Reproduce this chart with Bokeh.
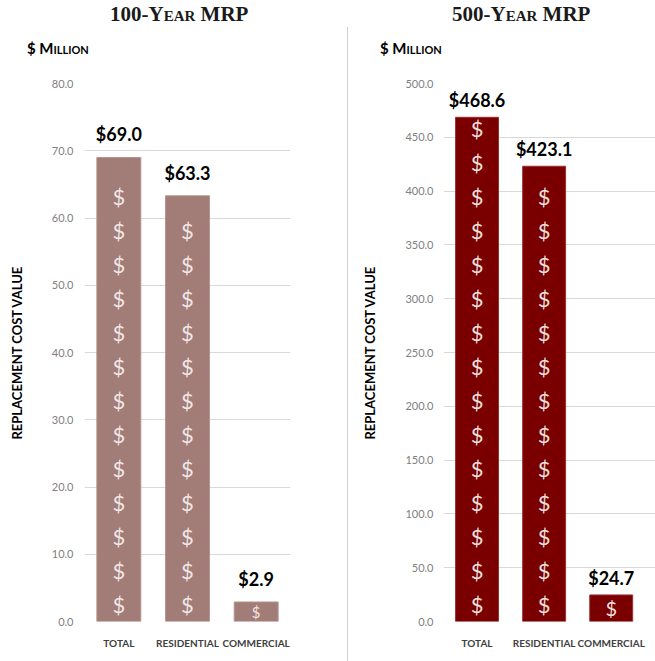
from bokeh.plotting import figure
from bokeh.models import (ColumnDataSource, FixedTicker, NumeralTickFormatter,
                          Range1d, Div, Spacer)
from bokeh.layouts import row, column
from bokeh.embed import file_html
from bokeh.resources import INLINE
from bokeh.core.properties import value

# ---------------- data ----------------
categories = ["Total", "Residential", "Commercial"]
category_labels = ["TOTAL", "RESIDENTIAL", "COMMERCIAL"]
mrp100_values = [69.0, 63.3, 2.9]
mrp500_values = [468.6, 423.1, 24.7]
mrp100_ticks = [0, 10, 20, 30, 40, 50, 60, 70, 80]
mrp500_ticks = [0, 50, 100, 150, 200, 250, 300, 350, 400, 450, 500]
panel_titles = ["100-Year MRP", "500-Year MRP"]
unit_label = "$ Million"
y_axis_label = "REPLACEMENT COST VALUE"

FRAME_H = 538
SYMBOL_PITCH_PX = 34
SYMBOL_SIZE = 22
HEAD_H = 56


def heading(title, width, title_left, unit_left):
    html = (
        '<div style="position:relative;width:%dpx;height:%dpx;">'
        '<div style="position:absolute;left:%dpx;top:4px;white-space:nowrap;'
        'font-family:\'Liberation Serif\';font-weight:bold;font-size:21px;'
        'line-height:21px;font-variant:small-caps;color:#1a1a1a;">%s</div>'
        '<div style="position:absolute;left:%dpx;top:41px;white-space:nowrap;'
        'font-family:Lato;font-weight:bold;font-size:15px;line-height:15px;'
        'font-variant:small-caps;color:#000;">%s</div>'
        '</div>' % (width, HEAD_H, title_left, title, unit_left, unit_label))
    return Div(text=html, width=width, height=HEAD_H, margin=0)


def make_panel(values, ticks, color, edge, frame_w, border_left,
               border_right, x_end, label_offset, axis_label_standoff,
               tick_standoff):
    ymax = ticks[-1]
    p = figure(frame_width=frame_w, frame_height=FRAME_H,
               min_border_left=border_left, min_border_right=border_right,
               min_border_top=83 - HEAD_H, min_border_bottom=40,
               x_range=Range1d(-0.5, x_end), y_range=Range1d(0, ymax),
               output_backend="svg", toolbar_location=None)
    p.outline_line_color = None
    p.background_fill_color = "white"
    p.border_fill_color = "white"

    xs = list(range(len(categories)))
    src = ColumnDataSource(dict(
        x=xs, value=values, cat=categories,
        label=["$%.1f" % v for v in values]))

    p.vbar(x="x", top="value", width=0.64, source=src,
           fill_color=color, line_color=edge, line_width=1)

    # stacked "$" pictures inside bars
    unit = SYMBOL_PITCH_PX * ymax / FRAME_H
    sx, sy, ssize = [], [], []
    for x, v in zip(xs, values):
        k = 0
        while (k + 0.8) * unit <= v:
            sx.append(x)
            sy.append((k + 0.5) * unit)
            ssize.append("%dpx" % SYMBOL_SIZE)
            k += 1
        if k == 0:
            bar_px = v * FRAME_H / ymax
            sx.append(x)
            sy.append(v / 2)
            ssize.append("%dpx" % round(min(SYMBOL_SIZE, bar_px * 0.75)))
    ssrc = ColumnDataSource(dict(x=sx, y=sy, t=["$"] * len(sx), s=ssize))
    p.text(x="x", y="y", text="t", source=ssrc, text_align="center",
           text_baseline="middle", text_font=value("Lato"),
           text_font_size="s", text_color="#f6eeee", text_alpha=0.95)

    # value labels
    p.text(x="x", y="value", text="label", source=src, text_align="center",
           text_baseline="alphabetic", y_offset=-label_offset,
           text_font=value("Lato"), text_font_style="bold",
           text_font_size="18px", text_color="#000000")

    # grid & axes
    p.xgrid.visible = False
    p.ygrid.grid_line_color = "#d9d9d9"
    p.ygrid.grid_line_width = 1

    p.yaxis.ticker = FixedTicker(ticks=ticks)
    p.yaxis.formatter = NumeralTickFormatter(format="0.0")
    p.yaxis.axis_line_color = None
    p.yaxis.major_tick_line_color = None
    p.yaxis.minor_tick_line_color = None
    p.yaxis.major_tick_out = 0
    p.yaxis.major_label_standoff = tick_standoff
    p.yaxis.major_label_text_font = "Lato"
    p.yaxis.major_label_text_font_size = "11px"
    p.yaxis.major_label_text_color = "#808080"
    p.yaxis.axis_label = y_axis_label
    p.yaxis.axis_label_text_font = "Lato"
    p.yaxis.axis_label_text_font_style = "bold"
    p.yaxis.axis_label_text_font_size = "13px"
    p.yaxis.axis_label_text_color = "#000000"
    p.yaxis.axis_label_standoff = axis_label_standoff

    p.xaxis.ticker = FixedTicker(ticks=xs)
    p.xaxis.major_label_overrides = {i: lab for i, lab in zip(xs, category_labels)}
    p.xaxis.axis_line_color = None
    p.xaxis.major_tick_line_color = None
    p.xaxis.minor_tick_line_color = None
    p.xaxis.major_tick_out = 0
    p.xaxis.major_label_standoff = 15
    p.xaxis.major_label_text_font = "Lato"
    p.xaxis.major_label_text_font_style = "bold"
    p.xaxis.major_label_text_font_size = "10px"
    p.xaxis.major_label_text_color = "#404040"
    return p


p1 = make_panel(mrp100_values, mrp100_ticks, "#a27c77", "#b8948f",
                206, 84, 57, 2.5, 23, 24, 11)
p2 = make_panel(mrp500_values, mrp500_ticks, "#7a0000", "#9a3030",
                212, 95, 0, 2.66, 17, 24, 10)
h1 = heading(panel_titles[0], 347, 110, 27)
h2 = heading(panel_titles[1], 307, 104, 32)

sep = Div(text="", width=1, height=634, margin=0,
          styles={"background-color": "#d0d0d0"})
layout = row(column(h1, p1, margin=0),
             column(Spacer(width=1, height=27, margin=0), sep, margin=0),
             column(h2, p2, margin=0),
             margin=0)

open("out.html", "w").write(file_html(layout, INLINE))
